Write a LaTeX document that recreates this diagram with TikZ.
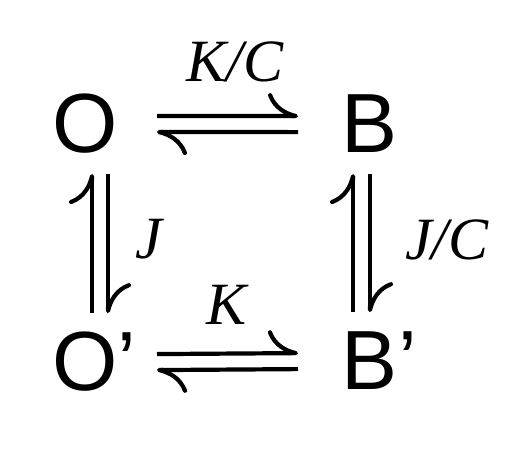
\documentclass[tikz,border=0pt]{standalone}
\usepackage{fontspec}
\setmainfont{Liberation Sans}
\newfontfamily\ratefont{Liberation Serif}
\usetikzlibrary{arrows.meta}

\begin{document}
\begin{tikzpicture}[x=1pt,y=-1pt,
  species/.style={font=\fontsize{84}{90}\selectfont, inner sep=0pt, anchor=base},
  rate/.style={font=\ratefont\itshape\fontsize{60}{64}\selectfont, inner sep=0pt, anchor=base},
  harp/.style={line width=4.2pt, -{Computer Modern Rightarrow[harpoon,length=30pt,width=46pt]}}]
\useasboundingbox (0,0) rectangle (520,462);
%species
\node[species] (O) at (85,153) {O};
\node[species] (B) at (370,153) {B};
\node[species] (Op) at (85,391) {O\rlap{’}};
\node[species] (Bp) at (370,390) {B\rlap{’}};
%top pair
\draw[harp] ([shift={(72,-8)}]O.center) -- ([shift={(-72,-8)}]B.center);
\draw[harp] ([shift={(-72,8)}]B.center) -- ([shift={(72,8)}]O.center);
%bottom pair
\draw[harp] ([shift={(72,-8)}]Op.center) -- ([shift={(-72,-8)}]Bp.center);
\draw[harp] ([shift={(-72,8)}]Bp.center) -- ([shift={(72,8)}]Op.center);
%left pair
\draw[harp] ([shift={(7,-49)}]Op.center) -- ([shift={(7,50)}]O.center);
\draw[harp] ([shift={(23,50)}]O.center) -- ([shift={(23,-49)}]Op.center);
%right pair
\draw[harp] ([shift={(-17,-49)}]Bp.center) -- ([shift={(-17,50)}]B.center);
\draw[harp] ([shift={(0,50)}]B.center) -- ([shift={(0,-49)}]Bp.center);
%rates
\node[rate] (kc) at (235,82) {K/C};
\node[rate] (j) at (149,259) {J};
\node[rate] (jc) at (447,260) {J/C};
\node[rate] (k) at (227,325) {K};
\end{tikzpicture}
\end{document}
